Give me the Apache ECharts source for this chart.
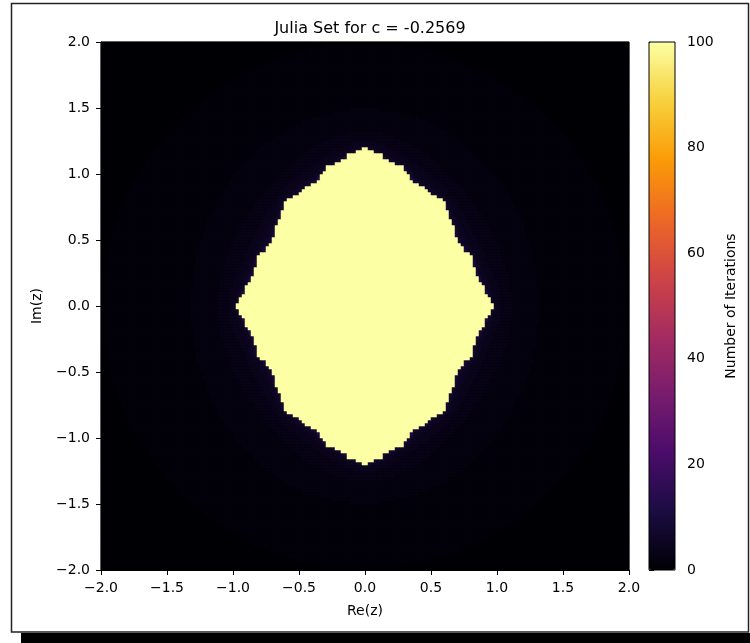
<!DOCTYPE html>
<html>
<head>
<meta charset="utf-8">
<script src="https://cdn.jsdelivr.net/npm/echarts@6/dist/echarts.min.js"></script>
<style>html,body{margin:0;padding:0;background:#fff}#c{width:750px;height:643px}</style>
</head>
<body>
<div id="c"></div>
<script>
// ---- chart data / parameters ----
const titleText = 'Julia Set for c = -0.2569';
const cReal = -0.2569;
const cImag = 0;
const maxIter = 100;
const gridSize = 176;            // cells per side
const extent = [-2, 2];          // Re and Im range
const axisTicks = [-2, -1.5, -1, -0.5, 0, 0.5, 1, 1.5, 2];
const colorbarTicks = [0, 20, 40, 60, 80, 100];
const infernoColors = ['#000004','#1b0c42','#4b0c6b','#781c6d','#a52c60','#cf4446','#ed6925','#fb9b06','#f7d13d','#fcffa4'];

// escape-time iteration counts (image stored transposed, as in the reference)
const cells = [];
const idx = [];
for (let i = 0; i < gridSize; i++) idx.push(i);
for (let j = 0; j < gridSize; j++) {
  const vj = extent[0] + (extent[1] - extent[0]) * j / (gridSize - 1);
  for (let i = 0; i < gridSize; i++) {
    const vi = extent[0] + (extent[1] - extent[0]) * i / (gridSize - 1);
    let x = vj, y = vi;
    let n = 0;
    while (x * x + y * y <= 4 && n < maxIter) {
      const xt = x * x - y * y + cReal;
      y = 2 * x * y + cImag;
      x = xt;
      n++;
    }
    cells.push([i, j, n]);
  }
}

const fmt = v => (Math.round(v * 10) / 10).toFixed(1).replace('-', '\u2212');
const FONT = 'DejaVu Sans';
const chart = echarts.init(document.getElementById('c'), null, {renderer: 'canvas'});
const PL = 101, PT = 42, PW = 528, PH = 528;
const CL = 649, CW = 26;
chart.setOption({
  animation: false,
  backgroundColor: '#fff',
  textStyle: {fontFamily: FONT},
  title: {
    text: titleText, left: PL + PW / 2, top: 16, textAlign: 'center',
    textStyle: {fontFamily: FONT, fontSize: 16, fontWeight: 'normal', color: '#000'}
  },
  grid: [
    {left: PL, top: PT, width: PW, height: PH, show: true, backgroundColor: '#000004', borderColor: '#000', borderWidth: 1, z: 0},
    {left: CL, top: PT, width: CW, height: PH, show: false}
  ],
  xAxis: [
    {type: 'category', gridIndex: 0, data: idx, show: false},
    {type: 'value', gridIndex: 0, min: axisTicks[0], max: axisTicks[axisTicks.length - 1], interval: 0.5, position: 'bottom',
     axisLine: {show: true, onZero: false, lineStyle: {color: '#000', width: 1}},
     axisTick: {show: true, length: 5, lineStyle: {color: '#000'}},
     axisLabel: {formatter: fmt, fontSize: 14, color: '#000', fontFamily: FONT, margin: 11},
     splitLine: {show: false},
     name: 'Re(z)', nameLocation: 'middle', nameGap: 34,
     nameTextStyle: {fontSize: 14, color: '#000', fontFamily: FONT}},
    {type: 'value', gridIndex: 1, show: false, min: 0, max: 1}
  ],
  yAxis: [
    {type: 'category', gridIndex: 0, data: idx, show: false},
    {type: 'value', gridIndex: 0, min: axisTicks[0], max: axisTicks[axisTicks.length - 1], interval: 0.5, position: 'left',
     axisLine: {show: true, onZero: false, lineStyle: {color: '#000', width: 1}},
     axisTick: {show: true, length: 5, lineStyle: {color: '#000'}},
     axisLabel: {formatter: fmt, fontSize: 14, color: '#000', fontFamily: FONT, margin: 11},
     splitLine: {show: false},
     name: 'Im(z)', nameLocation: 'middle', nameGap: 57, nameRotate: 90,
     nameTextStyle: {fontSize: 14, color: '#000', fontFamily: FONT}},
    {type: 'value', gridIndex: 1, min: colorbarTicks[0], max: colorbarTicks[colorbarTicks.length - 1], interval: 20, position: 'right',
     axisLine: {show: false},
     axisTick: {show: true, length: 5, lineStyle: {color: '#000'}},
     axisLabel: {fontSize: 14, color: '#000', fontFamily: FONT, margin: 12},
     splitLine: {show: false},
     name: 'Number of Iterations', nameLocation: 'middle', nameGap: 49, nameRotate: 90,
     nameTextStyle: {fontSize: 14, color: '#000', fontFamily: FONT}}
  ],
  visualMap: {
    type: 'continuous', min: 0, max: maxIter, seriesIndex: 0, calculable: false,
    orient: 'vertical', left: CL, top: PT, itemWidth: CW, itemHeight: PH, padding: 0,
    text: null, showLabel: false, hoverLink: false,
    inRange: {color: infernoColors}
  },
  series: [{
    type: 'heatmap', xAxisIndex: 0, yAxisIndex: 0, data: cells,
    progressive: 0, emphasis: {disabled: true}
  }],
  graphic: [
    {type: 'rect', z: 100, shape: {x: CL, y: PT, width: CW, height: PH},
     style: {fill: null, stroke: '#000', lineWidth: 1}},
    {type: 'rect', z: 100, shape: {x: 11.5, y: 3.5, width: 737, height: 628.5},
     style: {fill: null, stroke: '#222', lineWidth: 1.5}},
    {type: 'rect', z: 100, shape: {x: 21, y: 633, width: 729, height: 10},
     style: {fill: '#000'}}
  ]
});
</script>
</body>
</html>
